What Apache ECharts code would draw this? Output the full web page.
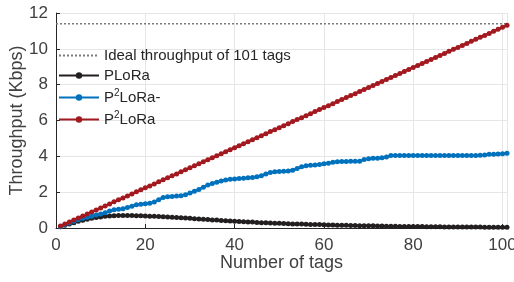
<!DOCTYPE html>
<html>
<head>
<meta charset="utf-8">
<script src="https://cdn.jsdelivr.net/npm/echarts@6/dist/echarts.min.js"></script>
<style>
  html, body { margin: 0; padding: 0; background: #fff; }
  #chart { width: 514px; height: 282px; }
</style>
</head>
<body>
<div id="chart"></div>
<script>
// tag counts 1..101
var tags = [];
for (var t = 1; t <= 101; t++) tags.push(t);

var idealValue = 11.4;

var plora = [
  0.07, 0.15, 0.23, 0.30, 0.37, 0.43, 0.49, 0.54, 0.58, 0.62,
  0.65, 0.67, 0.69, 0.70, 0.70, 0.70, 0.70, 0.69, 0.68, 0.67,
  0.66, 0.65, 0.64, 0.63, 0.62, 0.60, 0.59, 0.57, 0.56, 0.54,
  0.52, 0.50, 0.49, 0.47, 0.45, 0.44, 0.42, 0.40, 0.39, 0.37,
  0.36, 0.35, 0.34, 0.33, 0.31, 0.30, 0.29, 0.28, 0.27, 0.26,
  0.25, 0.24, 0.23, 0.22, 0.22, 0.21, 0.20, 0.19, 0.19, 0.18,
  0.17, 0.17, 0.16, 0.15, 0.15, 0.14, 0.14, 0.13, 0.13, 0.12,
  0.12, 0.11, 0.11, 0.10, 0.10, 0.10, 0.09, 0.09, 0.09, 0.08,
  0.08, 0.08, 0.07, 0.07, 0.07, 0.07, 0.06, 0.06, 0.06, 0.06,
  0.05, 0.05, 0.05, 0.05, 0.05, 0.04, 0.04, 0.04, 0.04, 0.04,
  0.04
];

var p2loraMinus = [
  0.07, 0.18, 0.28, 0.38, 0.46, 0.54, 0.60, 0.66, 0.72, 0.78,
  0.85, 0.95, 1.02, 1.05, 1.08, 1.15, 1.22, 1.30, 1.33, 1.36,
  1.38, 1.45, 1.58, 1.70, 1.74, 1.76, 1.78, 1.80, 1.85, 1.95,
  2.05, 2.15, 2.28, 2.40, 2.48, 2.55, 2.62, 2.68, 2.72, 2.74,
  2.76, 2.78, 2.80, 2.82, 2.86, 2.92, 3.02, 3.10, 3.14, 3.16,
  3.17, 3.18, 3.22, 3.32, 3.42, 3.48, 3.50, 3.52, 3.55, 3.58,
  3.62, 3.67, 3.70, 3.71, 3.71, 3.72, 3.72, 3.73, 3.82, 3.87,
  3.89, 3.90, 3.92, 3.96, 4.04, 4.05, 4.05, 4.05, 4.05, 4.05,
  4.05, 4.05, 4.05, 4.05, 4.05, 4.05, 4.05, 4.05, 4.05, 4.05,
  4.05, 4.05, 4.05, 4.05, 4.06, 4.08, 4.11, 4.12, 4.13, 4.14,
  4.17
];

var p2lora = [
  0.11, 0.22, 0.34, 0.45, 0.56, 0.67, 0.78, 0.90, 1.01, 1.12,
  1.23, 1.34, 1.46, 1.57, 1.68, 1.79, 1.90, 2.02, 2.13, 2.24,
  2.35, 2.46, 2.58, 2.69, 2.80, 2.91, 3.02, 3.14, 3.25, 3.36,
  3.47, 3.58, 3.70, 3.81, 3.92, 4.03, 4.14, 4.26, 4.37, 4.48,
  4.59, 4.70, 4.82, 4.93, 5.04, 5.15, 5.26, 5.38, 5.49, 5.60,
  5.71, 5.82, 5.94, 6.05, 6.16, 6.27, 6.38, 6.50, 6.61, 6.72,
  6.83, 6.94, 7.06, 7.17, 7.28, 7.39, 7.50, 7.62, 7.73, 7.84,
  7.95, 8.06, 8.18, 8.29, 8.40, 8.51, 8.62, 8.74, 8.85, 8.96,
  9.07, 9.18, 9.30, 9.41, 9.52, 9.63, 9.74, 9.86, 9.97, 10.08,
  10.19, 10.30, 10.42, 10.53, 10.64, 10.75, 10.86, 10.98, 11.09, 11.20,
  11.31
];

var seriesNames = ['Ideal throughput of 101 tags', 'PLoRa', 'P2LoRa-', 'P2LoRa'];
var colors = ['#7a7a7a', '#231f20', '#0072bd', '#a2191f'];

function pairs(vals) {
  return vals.map(function (v, i) { return [tags[i], v]; });
}

var myChart = echarts.init(document.getElementById('chart'), null, { renderer: 'canvas' });

var fontFamily = 'Liberation Sans, Arial, sans-serif';

function dataSeries(idx, vals) {
  return {
    name: seriesNames[idx],
    type: 'line',
    data: pairs(vals),
    symbol: 'circle',
    symbolSize: 5,
    showSymbol: true,
    color: colors[idx],
    lineStyle: { width: 2.5, color: colors[idx] },
    itemStyle: { color: colors[idx] },
    animation: false,
    z: 2 + idx
  };
}

myChart.setOption({
  animation: false,
  grid: { left: 56, right: 7, top: 13, bottom: 54, outerBoundsMode: 'none' },
  legend: {
    orient: 'vertical',
    left: 58,
    top: 48,
    itemWidth: 40,
    itemHeight: 8,
    itemGap: 5,
    padding: 0,
    data: [
      { name: seriesNames[0], itemStyle: { opacity: 0 } },
      seriesNames[1], seriesNames[2], seriesNames[3]
    ],
    textStyle: {
      fontFamily: fontFamily,
      fontSize: 15,
      color: '#262626',
      rich: {
        a: { fontFamily: fontFamily, fontSize: 15, color: '#262626' },
        s: { fontFamily: fontFamily, fontSize: 10, color: '#262626', verticalAlign: 'top', lineHeight: 19 }
      }
    },
    formatter: function (name) {
      if (name.indexOf('P2') === 0) {
        return '{a|P}{s|2}{a|' + name.slice(2) + '}';
      }
      return name;
    }
  },
  xAxis: {
    type: 'value',
    min: 0,
    max: 101,
    interval: 20,
    name: 'Number of tags',
    nameLocation: 'middle',
    nameGap: 26,
    nameMoveOverlap: false,
    nameTextStyle: { fontFamily: fontFamily, fontSize: 18, color: '#404040' },
    axisLine: { show: true, onZero: false, lineStyle: { color: '#262626', width: 1 } },
    axisTick: { show: true, inside: true, length: 4, lineStyle: { color: '#262626' } },
    axisLabel: { fontFamily: fontFamily, fontSize: 17, color: '#404040', margin: 9, showMaxLabel: false },
    splitLine: { show: true, lineStyle: { color: '#e6e6e6', width: 1 } }
  },
  yAxis: {
    type: 'value',
    min: 0,
    max: 12,
    interval: 2,
    name: 'Throughput (Kbps)',
    nameLocation: 'middle',
    nameGap: 30,
    nameMoveOverlap: false,
    nameTextStyle: { fontFamily: fontFamily, fontSize: 18, color: '#404040' },
    axisLine: { show: true, lineStyle: { color: '#262626', width: 1 } },
    axisTick: { show: true, inside: true, length: 4, lineStyle: { color: '#262626' } },
    axisLabel: { fontFamily: fontFamily, fontSize: 17, color: '#404040', margin: 8 },
    splitLine: { show: true, lineStyle: { color: '#e6e6e6', width: 1 } }
  },
  series: [
    {
      name: seriesNames[0],
      type: 'line',
      data: [[0, idealValue], [101, idealValue]],
      symbol: 'none',
      color: colors[0],
      lineStyle: { width: 1.5, type: [2, 2], color: colors[0] },
      animation: false,
      z: 1
    },
    dataSeries(1, plora),
    dataSeries(2, p2loraMinus),
    dataSeries(3, p2lora)
  ]
});

window.addEventListener('resize', function () {
  myChart.resize();
});
</script>
</body>
</html>
